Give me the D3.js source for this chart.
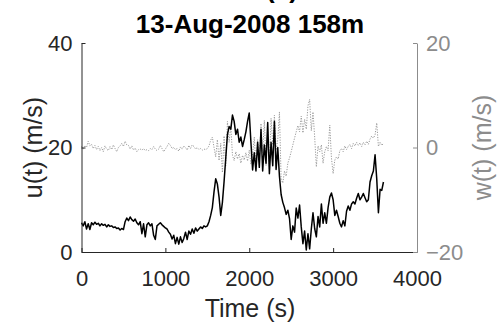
<!DOCTYPE html>
<html>
<head>
<meta charset="utf-8">
<script src="https://cdn.jsdelivr.net/npm/d3@7"></script>
<style>
  html, body { margin: 0; padding: 0; background: #fff; }
  svg { display: block; font-family: "Liberation Sans", Arial, sans-serif; }
</style>
</head>
<body>
<svg id="chart" width="502" height="325"></svg>
<script>
// time stamps (s)
const timeSec = [
  0, 20, 40, 60, 80, 100, 120, 140, 160, 180, 200, 220, 240, 260, 280, 300, 320, 340, 360, 380,
  400, 420, 440, 460, 480, 500, 520, 540, 560, 580, 600, 620, 640, 660, 680, 700, 720, 740, 760, 780,
  800, 820, 840, 860, 880, 900, 920, 940, 960, 980, 1000, 1020, 1040, 1060, 1080, 1100, 1120, 1140, 1160, 1180,
  1200, 1220, 1240, 1260, 1280, 1300, 1320, 1340, 1360, 1380, 1400, 1420, 1440, 1460, 1480, 1500, 1520, 1540, 1560, 1580,
  1600, 1620, 1640, 1660, 1680, 1700, 1720, 1740, 1760, 1780, 1800, 1820, 1840, 1860, 1880, 1900, 1920, 1940, 1960, 1980,
  2000, 2020, 2040, 2060, 2080, 2100, 2120, 2140, 2160, 2180, 2200, 2220, 2240, 2260, 2280, 2300, 2320, 2340, 2360, 2380,
  2400, 2420, 2440, 2460, 2480, 2500, 2520, 2540, 2560, 2580, 2600, 2620, 2640, 2660, 2680, 2700, 2720, 2740, 2760, 2780,
  2800, 2820, 2840, 2860, 2880, 2900, 2920, 2940, 2960, 2980, 3000, 3020, 3040, 3060, 3080, 3100, 3120, 3140, 3160, 3180,
  3200, 3220, 3240, 3260, 3280, 3300, 3320, 3340, 3360, 3380, 3400, 3420, 3440, 3460, 3480, 3500, 3520, 3540, 3560, 3580,
  3600
];

// horizontal wind u(t), m/s
const uSpeed = [
  5.6, 5.0, 5.8, 4.4, 5.4, 4.3, 5.6, 5.2, 5.7, 5.3, 5.5, 5.0, 5.4, 5.1, 5.3, 4.8, 5.2, 4.9, 5.0, 4.7,
  4.8, 4.5, 4.6, 4.2, 4.5, 4.3, 5.8, 6.5, 6.0, 6.7, 6.2, 5.9, 6.3, 5.6, 5.2, 5.8, 3.5, 5.4, 2.9, 5.2,
  5.6, 5.0, 5.4, 3.2, 2.4, 5.0, 5.3, 5.6, 5.2, 4.9, 4.6, 4.4, 3.8, 3.4, 2.5, 3.2, 1.6, 2.8, 1.5, 2.9,
  1.8, 2.6, 3.8, 2.4, 4.0, 3.4, 4.4, 3.6, 4.6, 4.0, 4.4, 4.8, 4.5, 5.0, 4.8, 5.0, 5.8, 7.0, 8.5, 11.5,
  14.0, 13.0, 10.5, 7.0, 9.5, 13.5, 18.0, 22.5, 24.0, 23.5, 26.2, 25.0, 22.5, 23.5, 21.0, 22.0, 20.2, 21.5, 23.0, 25.0,
  26.6, 21.0, 15.7, 19.0, 15.5, 21.0, 16.2, 23.5, 15.5, 20.5, 17.0, 24.8, 15.0, 21.0, 16.5, 25.0, 15.8, 20.0, 14.5, 11.0,
  9.5, 8.5, 7.2, 8.0, 6.4, 2.4, 5.0, 3.8, 8.4, 6.5, 9.0, 4.8, 1.6, 4.0, 0.4, 3.5, 0.6, 4.4, 7.5, 4.5,
  2.9, 6.8, 4.8, 9.2, 5.5, 7.5, 5.5, 8.5, 10.5, 11.3, 10.0, 7.0, 8.0, 6.8, 5.5, 4.8, 6.0, 5.0, 7.8, 8.8,
  8.0, 9.2, 9.6, 9.2, 10.3, 11.2, 10.0, 10.5, 11.2, 10.4, 9.6, 10.0, 13.4, 14.6, 15.5, 18.6, 14.0, 7.5, 12.0, 11.8,
  13.4
];

// vertical wind w(t), m/s
const wSpeed = [
  0.2, -0.3, 0.4, 0.0, 1.2, 0.3, 0.6, -0.2, 0.4, -0.4, 0.2, -0.6, 0.0, -0.8, 0.3, -0.3, -0.6, 0.2, -0.4, 0.5,
  -0.2, -0.8, 0.0, 0.3, 0.8, 0.2, 1.2, 0.5, 0.4, -0.3, 0.3, -0.5, -0.1, -0.8, -0.4, -0.3, -0.5, -0.2, -0.6, -0.4,
  -0.6, -0.2, -0.4, 0.2, -0.3, -0.6, -0.3, 0.4, -0.2, -0.8, -0.3, 0.2, 0.8, 0.4, -0.2, 0.0, -0.4, -0.2, -0.7, 0.1,
  -0.3, 0.3, 0.0, -0.5, 0.4, -0.2, 0.5, 0.2, -0.3, 0.0, -0.4, -0.2, -0.5, -0.3, -0.4, -0.2, 0.3, 1.4, 2.0, 0.0,
  -1.8, 1.5, -2.5, 0.8, -4.8, 2.2, -3.5, 5.0, 1.0, 4.2, -1.5, -2.5, -0.8, -2.2, -1.2, -3.0, -1.5, -2.4, -1.0, -2.6,
  -0.5, -3.2, -1.2, 2.0, -3.8, 1.5, -2.5, 4.6, -1.0, 5.2, -3.5, 3.5, -4.0, 5.6, 0.5, 6.2, -0.5, 1.5, 6.8, -6.0,
  -6.8, -4.5, -5.5, -3.0, -2.0, -0.8, 0.5, 1.8, 3.0, 4.2, 3.0, 6.0, 2.8, 5.4, 3.5, 8.0, 9.2, 3.2, 6.8, 2.0,
  -3.7, 0.3, -0.8, 0.5, -3.0, -0.8, 0.2, -0.6, 4.3, -2.0, -5.0, -2.4, -1.8, -2.2, -0.6, -0.2, -0.8, 0.3, -0.4, 0.2,
  0.6, -0.2, 0.8, 0.3, 1.0, 0.4, 0.9, 0.2, 1.0, 0.5, 1.2, 0.6, 1.6, 2.2, 1.8, 2.4, 4.7, 0.2, 1.0, 0.4,
  0.8
];

const xTicks = [0, 1000, 2000, 3000, 4000];
const uTicks = [0, 20, 40];
const wTicks = [-20, 0, 20];

const svg = d3.select('#chart');
const plotLeft = 81.5, plotRight = 417, plotTop = 43, plotBottom = 252;
const dark = '#262626';
const grey = '#8c8c8c';

const x = d3.scaleLinear().domain([0, 4000]).range([plotLeft, plotRight]);
const yU = d3.scaleLinear().domain([0, 40]).range([plotBottom, plotTop]);
const yW = d3.scaleLinear().domain([-20, 20]).range([plotBottom, plotTop]);

const rows = timeSec.map(function(t, i) { return { t: t, u: uSpeed[i], w: wSpeed[i] }; });

// w(t) dotted grey
svg.append('path')
  .datum(rows)
  .attr('fill', 'none')
  .attr('stroke', '#9a9a9a')
  .attr('stroke-width', 1)
  .attr('stroke-dasharray', '1.2 1.4')
  .attr('d', d3.line().x(function(d) { return x(d.t); }).y(function(d) { return yW(d.w); }));

// u(t) black
svg.append('path')
  .datum(rows)
  .attr('fill', 'none')
  .attr('stroke', '#000')
  .attr('stroke-width', 1.5)
  .attr('stroke-linejoin', 'round')
  .attr('d', d3.line().x(function(d) { return x(d.t); }).y(function(d) { return yU(d.u); }));

// axes
const xAxis = svg.append('g')
  .attr('transform', `translate(0,${plotBottom})`)
  .call(d3.axisBottom(x).tickValues(xTicks).tickFormat(d3.format('d')).tickSizeInner(-4).tickSizeOuter(0).tickPadding(18));

const uAxis = svg.append('g')
  .attr('transform', `translate(${plotLeft},0)`)
  .call(d3.axisLeft(yU).tickValues(uTicks).tickSizeInner(-4).tickSizeOuter(0).tickPadding(9));

const wAxis = svg.append('g')
  .attr('transform', `translate(${plotRight},0)`)
  .call(d3.axisRight(yW).tickValues(wTicks).tickSizeInner(-4).tickSizeOuter(0).tickPadding(9));

[xAxis, uAxis].forEach(function(a) {
  a.select('.domain').attr('stroke', dark);
  a.selectAll('.tick line').attr('stroke', dark);
  a.selectAll('.tick text').attr('fill', dark).style('font-size', '22px').style('font-family', '"Liberation Sans", Arial, sans-serif');
});
wAxis.select('.domain').attr('stroke', grey);
wAxis.selectAll('.tick line').attr('stroke', grey);
wAxis.selectAll('.tick text').attr('fill', grey).style('font-size', '22px').style('font-family', '"Liberation Sans", Arial, sans-serif');

// titles
svg.append('text')
  .attr('x', 282).attr('y', -2)
  .attr('text-anchor', 'middle')
  .style('font-size', '26px').style('font-weight', 'bold')
  .attr('fill', '#000')
  .text('(c)');

svg.append('text')
  .attr('x', 250).attr('y', 33)
  .attr('text-anchor', 'middle')
  .style('font-size', '26px').style('font-weight', 'bold')
  .attr('fill', '#000')
  .text('13-Aug-2008 158m');

svg.append('text')
  .attr('x', 250).attr('y', 317)
  .attr('text-anchor', 'middle')
  .style('font-size', '25px')
  .attr('fill', dark)
  .text('Time (s)');

svg.append('text')
  .attr('transform', `translate(42,${(plotTop + plotBottom) / 2}) rotate(-90)`)
  .attr('text-anchor', 'middle')
  .style('font-size', '25px')
  .attr('fill', dark)
  .text('u(t) (m/s)');

svg.append('text')
  .attr('transform', `translate(491,${(plotTop + plotBottom) / 2}) rotate(-90)`)
  .attr('text-anchor', 'middle')
  .style('font-size', '25px')
  .attr('fill', grey)
  .text('w(t) (m/s)');
</script>
</body>
</html>
